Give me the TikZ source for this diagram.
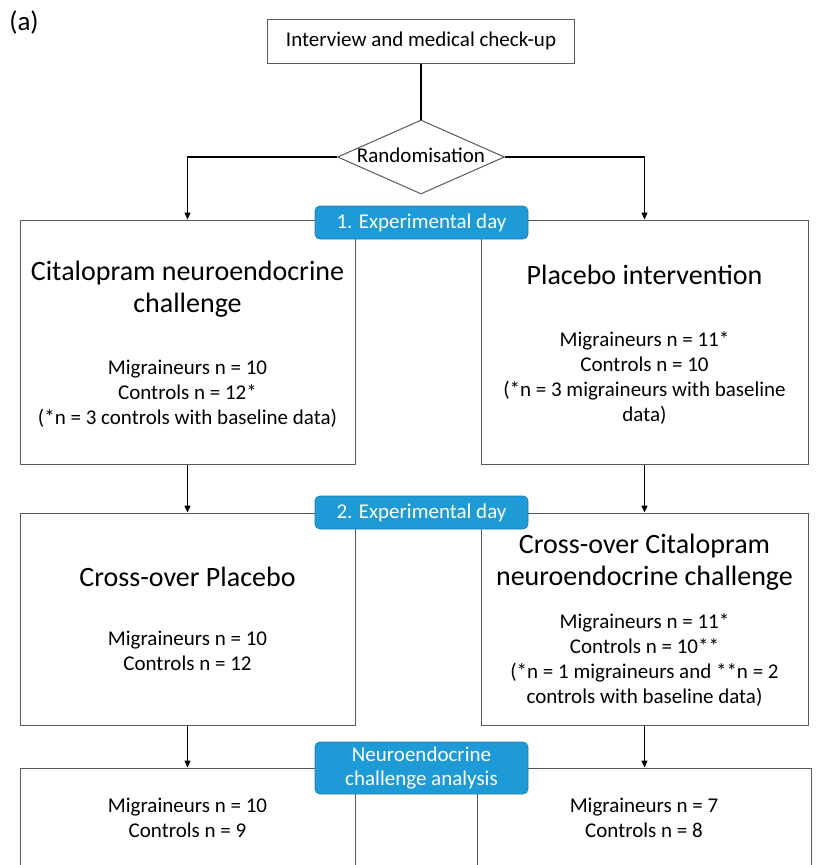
\documentclass[tikz,border=0pt]{standalone}
\usepackage{fontspec}
\setmainfont{Carlito}
\usetikzlibrary{arrows.meta,shapes.geometric}
\definecolor{boxline}{RGB}{89,89,89}
\definecolor{labelblue}{RGB}{30,155,214}
\definecolor{labeledge}{RGB}{24,128,182}
\tikzset{
  box/.style={draw=boxline, line width=1pt, rectangle, inner sep=0pt},
  diam/.style={draw=boxline, line width=1pt, diamond, inner sep=0pt, fill=white},
  lab/.style={draw=labeledge, fill=labelblue, line width=0.8pt, rounded corners=5pt, text=white,
    inner sep=0pt, align=center, minimum width=213pt, font=\fontsize{21}{24}\selectfont},
  big/.style={inner sep=0pt, align=center, font=\fontsize{28}{32}\selectfont},
  small/.style={inner sep=0pt, align=center, font=\fontsize{21}{25}\selectfont},
  arr/.style={draw=black, line width=1.3pt, -{Triangle[length=7pt,width=6pt]}},
  conn/.style={draw=black, line width=1.3pt}
}
\begin{document}
\begin{tikzpicture}[x=1pt,y=-1pt]
\useasboundingbox (0,0) rectangle (817,865);
\clip (0,0) rectangle (817,865);
% (a)
\node[inner sep=0pt, font=\fontsize{27}{30}\selectfont] (tag) at (24,22) {(a)};
% top
\node[box, minimum width=307pt, minimum height=44pt, font=\fontsize{21}{24}\selectfont] (top) at (421,41) {Interview and medical check-up};
\node[diam, minimum width=167pt, minimum height=74pt] (dia) at (421,157) {};
\node[small] (diat) at (421,155) {Randomisation};
% boxes
\node[box, minimum width=335pt, minimum height=244pt] (b1l) at (187.5,342) {};
\node[box, minimum width=327pt, minimum height=244pt] (b1r) at (644.5,342) {};
\node[box, minimum width=335pt, minimum height=212pt] (b2l) at (187.5,619) {};
\node[box, minimum width=327pt, minimum height=212pt] (b2r) at (644.5,619) {};
\node[box, minimum width=335pt, minimum height=104pt] (b3l) at (187.5,820) {};
\node[box, minimum width=334pt, minimum height=104pt] (b3r) at (644,820) {};
% connectors
\draw[conn] (top.south) -- (dia.north);
\draw[arr] (dia.west) -| (b1l.north);
\draw[arr] (dia.east) -| (b1r.north);
\draw[arr] (b1l.south) -- (b2l.north);
\draw[arr] (b1r.south) -- (b2r.north);
\draw[arr] (b2l.south) -- (b3l.north);
\draw[arr] (b2r.south) -- ([xshift=0.5pt]b3r.north);
% labels
\node[lab, minimum height=33pt] (l1) at (421.5,222.5) {1. Experimental day};
\node[lab, minimum height=33pt] (l2) at (421.5,512.5) {2. Experimental day};
\node[lab, minimum height=52pt] (l3) at (421.5,768) {Neuroendocrine\\challenge analysis};
% texts box 1
\node[big] (t1a) at (187.5,289) {Citalopram neuroendocrine\\challenge};
\node[small] (t1b) at (187.5,394) {Migraineurs n = 10\\Controls n = 12*\\(*n = 3 controls with baseline data)};
\node[big] (t1c) at (644.5,275) {Placebo intervention};
\node[small] (t1d) at (644.5,377.5) {Migraineurs n = 11*\\Controls n = 10\\(*n = 3 migraineurs with baseline\\data)};
% texts box 2
\node[big] (t2a) at (187.5,577) {Cross-over Placebo};
\node[small] (t2b) at (187.5,651) {Migraineurs n = 10\\Controls n = 12};
\node[big] (t2c) at (644.5,562.5) {Cross-over Citalopram\\neuroendocrine challenge};
\node[small] (t2d) at (644.5,660) {Migraineurs n = 11*\\Controls n = 10**\\(*n = 1 migraineurs and **n = 2\\controls with baseline data)};
% texts box 3
\node[small] (t3a) at (187.5,817.5) {Migraineurs n = 10\\Controls n = 9};
\node[small] (t3b) at (644,817.5) {Migraineurs n = 7\\Controls n = 8};
\end{tikzpicture}
\end{document}
